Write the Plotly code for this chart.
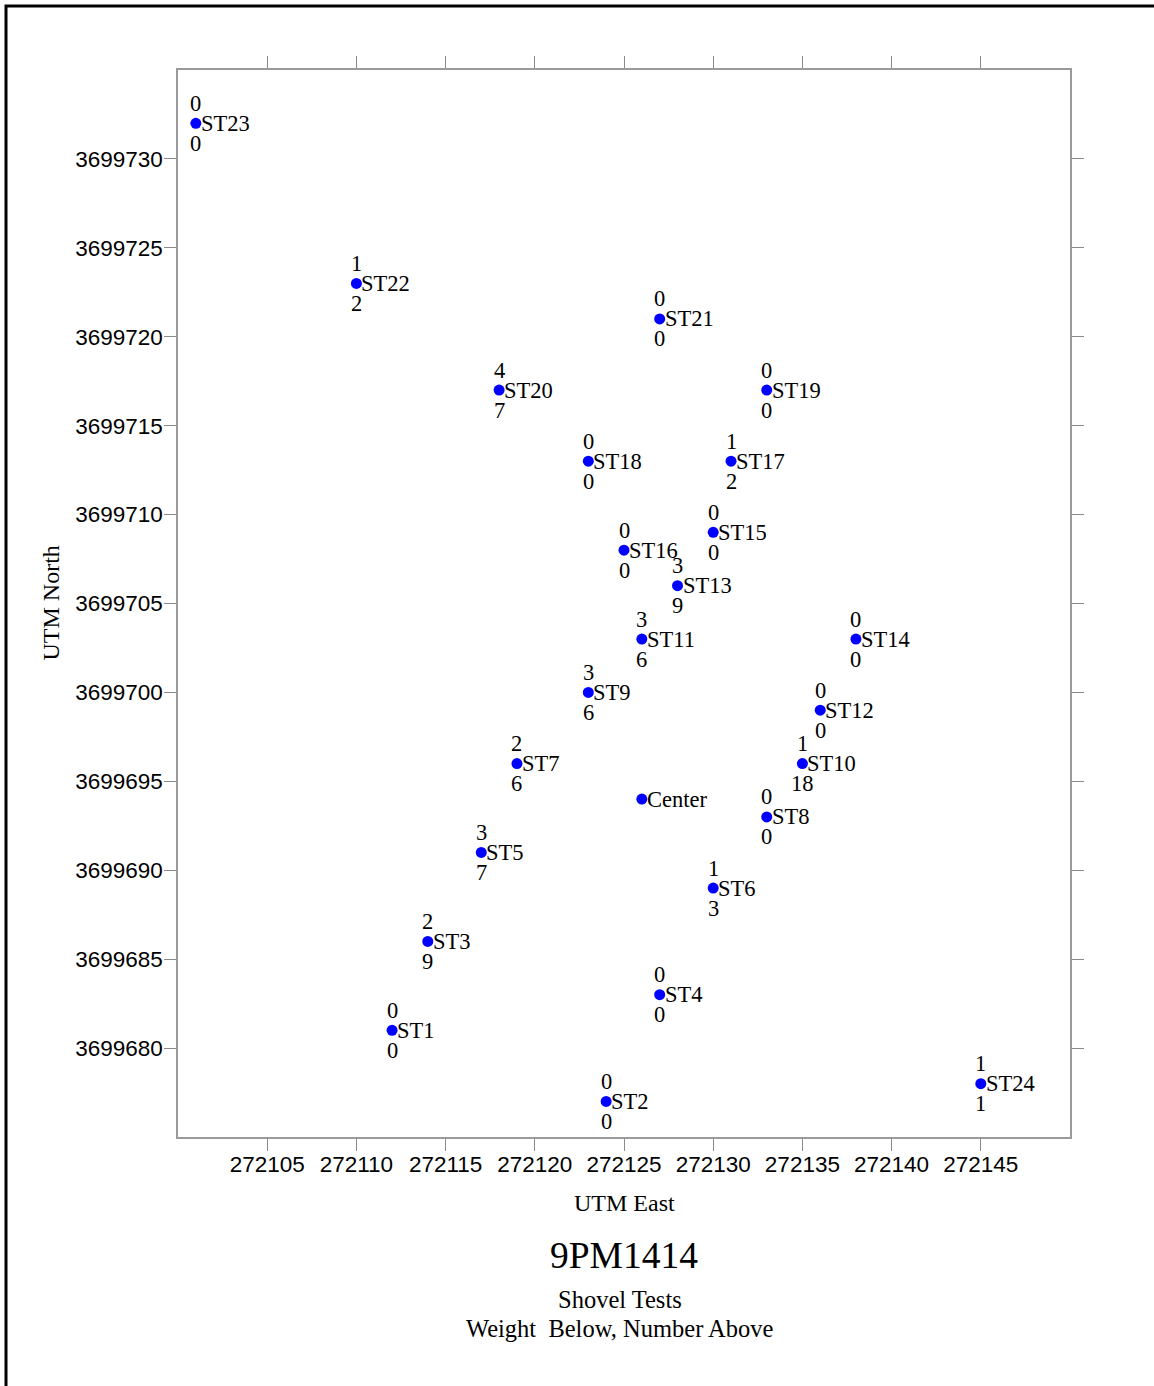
import plotly.graph_objects as go

# Shovel test locations (UTM metres) with artifact counts and weights
names = ["ST23", "ST22", "ST21", "ST20", "ST19", "ST18", "ST17", "ST15", "ST16",
         "ST13", "ST11", "ST14", "ST9", "ST12", "ST7", "ST10", "Center", "ST8",
         "ST5", "ST6", "ST3", "ST4", "ST1", "ST24", "ST2"]
east = [272101, 272110, 272127, 272118, 272133, 272123, 272131, 272130, 272125,
        272128, 272126, 272138, 272123, 272136, 272119, 272135, 272126, 272133,
        272117, 272130, 272114, 272127, 272112, 272145, 272124]
north = [3699732, 3699723, 3699721, 3699717, 3699717, 3699713, 3699713, 3699709, 3699708,
         3699706, 3699703, 3699703, 3699700, 3699699, 3699696, 3699696, 3699694, 3699693,
         3699691, 3699689, 3699686, 3699683, 3699681, 3699678, 3699677]
number_above = [0, 1, 0, 4, 0, 0, 1, 0, 0, 3, 3, 0, 3, 0, 2, 1, None, 0,
                3, 1, 2, 0, 0, 1, 0]
weight_below = [0, 2, 0, 7, 0, 0, 2, 0, 0, 9, 6, 0, 6, 0, 6, 18, None, 0,
                7, 3, 9, 0, 0, 1, 0]

x_ticks = [272105, 272110, 272115, 272120, 272125, 272130, 272135, 272140, 272145]
y_ticks = [3699680, 3699685, 3699690, 3699695, 3699700, 3699705, 3699710, 3699715,
           3699720, 3699725, 3699730]

SERIF = "Liberation Serif"
SANS = "Liberation Sans"
LABEL_SIZE = 22.5

W, H = 1154, 1386
L, R, T, B = 178, 84, 70, 249
PW, PH = W - L - R, H - T - B

fig = go.Figure()
fig.add_trace(go.Scatter(
    x=east, y=north, mode="markers",
    marker=dict(color="#0000ff", size=11, line=dict(width=0)),
    hoverinfo="text", text=names, showlegend=False,
))

annotations = []
for x, y, n, a, b in zip(east, north, names, number_above, weight_below):
    annotations.append(dict(x=x, y=y, text=n, showarrow=False, xanchor="left",
                            yanchor="middle", xshift=3, yshift=0,
                            font=dict(family=SERIF, size=LABEL_SIZE, color="black")))
    if a is not None:
        annotations.append(dict(x=x, y=y, text=str(a), showarrow=False, xanchor="center",
                                yanchor="middle", yshift=20,
                                font=dict(family=SERIF, size=LABEL_SIZE, color="black")))
    if b is not None:
        annotations.append(dict(x=x, y=y, text=str(b), showarrow=False, xanchor="center",
                                yanchor="middle", yshift=-20,
                                font=dict(family=SERIF, size=LABEL_SIZE, color="black")))

# titles below the plot and the rotated y title
def below(text, px_below, size, xc=624):
    return dict(xref="paper", yref="paper", x=(xc - L) / PW, y=0, text=text,
                showarrow=False, xanchor="center", yanchor="middle",
                yshift=-px_below, font=dict(family=SERIF, size=size, color="black"))

annotations += [
    below("UTM East", 66, 24),
    below("9PM1414", 118, 37.5),
    below("Shovel Tests", 162, 24.5, 620),
    below("Weight&nbsp;&nbsp;Below, Number Above", 191, 24.5, 620),
    dict(xref="paper", yref="paper", x=(50 - L) / PW, y=0.5, text="UTM North",
         showarrow=False, textangle=-90, xanchor="center", yanchor="middle",
         font=dict(family=SERIF, size=24, color="black")),
]

axis_common = dict(showgrid=False, zeroline=False, showline=True, mirror="allticks",
                   linecolor="#9a9a9a", linewidth=1.5, ticks="outside", ticklen=12,
                   tickcolor="#8a8a8a", tickwidth=1.2,
                   tickfont=dict(family=SANS, size=22.5, color="black"))

fig.update_layout(
    width=W, height=H,
    margin=dict(l=L, r=R, t=T, b=B),
    paper_bgcolor="white", plot_bgcolor="white",
    xaxis=dict(range=[272100, 272150], tickvals=x_ticks,
               ticktext=[str(v) for v in x_ticks], ticklabelstandoff=-6, **axis_common),
    yaxis=dict(range=[3699675, 3699735], tickvals=y_ticks,
               ticktext=[str(v) for v in y_ticks], ticklabelstandoff=-3, **axis_common),
    annotations=annotations,
    shapes=[dict(type="rect", xref="paper", yref="paper",
                 x0=(6 - L) / PW, x1=(W + 20 - L) / PW,
                 y0=-(H + 20 - (H - B)) / PH, y1=((H - B) - 6) / PH,
                 line=dict(color="black", width=3), fillcolor="rgba(0,0,0,0)")],
)

fig.write_html("out.html")
